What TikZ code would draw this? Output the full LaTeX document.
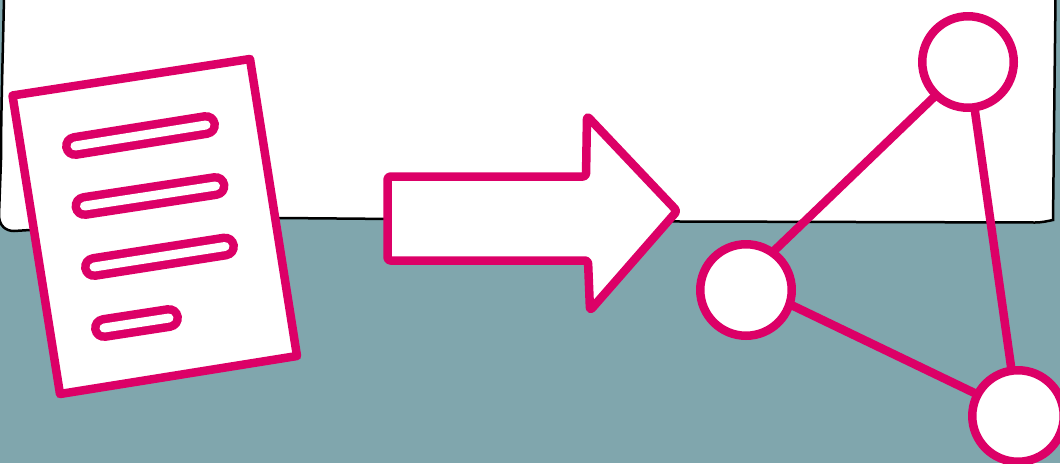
\documentclass[tikz,border=0pt]{standalone}
\definecolor{docpink}{HTML}{DC0067}
\definecolor{deskteal}{HTML}{80A6AD}
\tikzset{
  pinkline/.style={docpink, line width=0.17cm, line join=round},
  pill/.style={docpink, line width=0.17cm, double=white, double distance=0.18cm, line cap=round},
  graphnode/.style={circle, draw=docpink, fill=white, line width=0.17cm, minimum size=1.83cm, inner sep=0pt, outer sep=0pt},
}
\begin{document}
\begin{tikzpicture}[x=0.02cm, y=-0.02cm]
\clip (0,0) rectangle (1060,463);
\fill[deskteal] (0,0) rectangle (1060,463);
% paper behind everything
\draw[fill=white, line width=0.05cm] (4,-3) .. controls (3,50) and (1,110) .. (1,160) -- (-1,215) .. controls (-1,226) and (6,231) .. (14,231) -- (30,230) -- (280,218) -- (680,221.5) -- (1035,222.5) .. controls (1042,222.5) and (1048,221) .. (1053,220) -- (1055.5,-3) -- cycle;
% document
\draw[pinkline, fill=white] (12.5,95.5) -- (250,59) -- (297,356) -- (60,394) -- cycle;
\draw[pill] (75,146) -- (206,125);
\draw[pill] (84.5,206) -- (215.5,186);
\draw[pill] (94,267) -- (225,246.5);
\draw[pill] (104,328) -- (169,318);
% arrow
\draw[pinkline, fill=white, rounded corners=0.06cm] (387.5,176.5) -- (586,176.5) -- (587,116) -- (677,211) -- (590,310.5) -- (588,260.5) -- (387.5,260.5) -- cycle;
% graph
\node[graphnode] (top) at (968,62) {};
\node[graphnode] (lft) at (746,290) {};
\node[graphnode] (rgt) at (1018,416) {};
\draw[pinkline] (lft.55) -- (top.226);
\draw[pinkline] (top) -- (rgt);
\draw[pinkline] (lft.-18) -- (rgt.152);
\end{tikzpicture}
\end{document}
